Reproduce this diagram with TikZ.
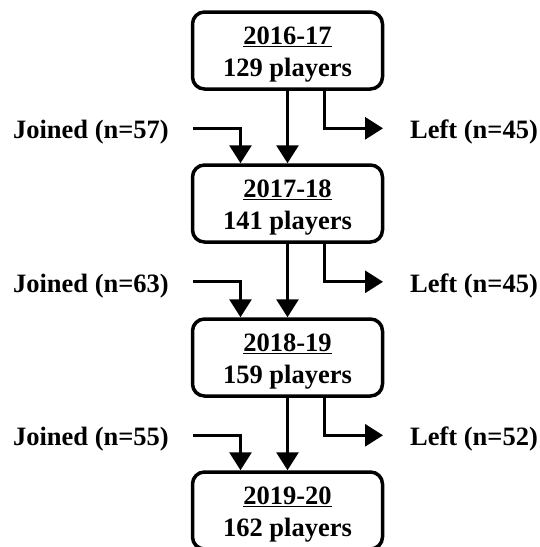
\documentclass[tikz,border=0pt]{standalone}
\usepackage{fontspec}
\setmainfont{Liberation Serif}
\usetikzlibrary{arrows.meta}

\tikzset{
  season/.style={draw, line width=3.5pt, rounded corners=12pt, minimum width=190pt, minimum height=77pt, inner sep=0pt},
  count/.style={align=center, inner sep=0pt},
  flow/.style={line width=3pt, -{Triangle[length=18pt,width=22pt]}},
  side/.style={inner sep=0pt}
}

\begin{document}
\begin{tikzpicture}[x=1pt,y=1pt,yscale=-1]
\useasboundingbox (0,0) rectangle (539,547);
\bfseries\fontsize{26.5}{31.5}\selectfont

% season boxes
\node [season] (y1) at (287.5,50.5) {};
\node [season] (y2) at (287.5,203.5) {};
\node [season] (y3) at (287.5,357.5) {};
\node [season] (y4) at (287.5,510.5) {};
\node [count] (c1) at ([yshift=4pt]y1.center) {\underline{2016-17}\\129 players};
\node [count] (c2) at ([yshift=4pt]y2.center) {\underline{2017-18}\\141 players};
\node [count] (c3) at ([yshift=4pt]y3.center) {\underline{2018-19}\\159 players};
\node [count] (c4) at ([yshift=4pt]y4.center) {\underline{2019-20}\\162 players};

% joined / left labels
\node [side, anchor=base east] (j1) at (169,138.8) {Joined (n=57)};
\node [side, anchor=base east] (j2) at (169,292.3) {Joined (n=63)};
\node [side, anchor=base east] (j3) at (169,445.8) {Joined (n=55)};
\node [side, anchor=base west] (l1) at (410,138.8) {Left (n=45)};
\node [side, anchor=base west] (l2) at (410,292.3) {Left (n=45)};
\node [side, anchor=base west] (l3) at (410,445.8) {Left (n=52)};

% flows
\draw [flow] (y1) -- (y2);
\draw [flow] (y2) -- (y3);
\draw [flow] (y3) -- (y4);

\draw [flow] ([xshift=36.5pt]y1.south) |- ([xshift=-27pt,yshift=-10.5pt]l1.base west);
\draw [flow] ([xshift=36.5pt]y2.south) |- ([xshift=-27pt,yshift=-10.5pt]l2.base west);
\draw [flow] ([xshift=36.5pt]y3.south) |- ([xshift=-27pt,yshift=-10.5pt]l3.base west);

\draw [flow] ([xshift=24pt,yshift=-10.5pt]j1.base east) -| ([xshift=-47pt]y2.north);
\draw [flow] ([xshift=24pt,yshift=-10.5pt]j2.base east) -| ([xshift=-47pt]y3.north);
\draw [flow] ([xshift=24pt,yshift=-10.5pt]j3.base east) -| ([xshift=-47pt]y4.north);

\end{tikzpicture}
\end{document}
